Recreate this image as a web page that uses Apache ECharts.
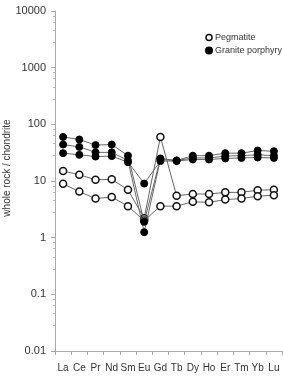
<!DOCTYPE html>
<html>
<head>
<meta charset="utf-8">
<script src="https://cdn.jsdelivr.net/npm/echarts@6/dist/echarts.min.js"></script>
<style>
  html, body { margin: 0; padding: 0; background: #fff; }
  #chart { width: 283px; height: 379px; }
</style>
</head>
<body>
<div id="chart"></div>
<script>
// REE elements on the x axis
const elements = ['La', 'Ce', 'Pr', 'Nd', 'Sm', 'Eu', 'Gd', 'Tb', 'Dy', 'Ho', 'Er', 'Tm', 'Yb', 'Lu'];

// Pegmatite samples (open circles)
const pegmatite1 = [15, 12.9, 10.5, 10.7, 7.0, 2.2, 60, 5.5, 5.9, 5.9, 6.3, 6.3, 6.9, 7.0];
const pegmatite2 = [8.9, 6.5, 4.9, 5.2, 3.6, 2.0, 3.6, 3.6, 4.3, 4.2, 4.7, 4.9, 5.4, 5.6];

// Granite porphyry samples (filled circles)
const granite1 = [60, 54, 43, 44, 28, 1.9, 25, 23, 28, 28, 31, 31, 34.5, 33.5];
const granite2 = [44, 40, 32, 32, 23, 1.25, 24, 23, 25.5, 25.5, 27.5, 28, 29, 28];
const granite3 = [31, 29, 27, 27.5, 21.5, 9, 22.5, 22.5, 24, 24, 25, 25.5, 26, 25.5];

const lineColor = '#666';

function openSeries(data) {
  return {
    name: 'Pegmatite',
    type: 'line',
    data: data,
    symbol: 'circle',
    symbolSize: 7,
    itemStyle: { color: '#fff', borderColor: '#111', borderWidth: 1.5 },
    lineStyle: { color: lineColor, width: 1 },
    z: 3
  };
}

function filledSeries(data) {
  return {
    name: 'Granite porphyry',
    type: 'line',
    data: data,
    symbol: 'circle',
    symbolSize: 7,
    itemStyle: { color: '#000', borderColor: '#000', borderWidth: 1 },
    lineStyle: { color: lineColor, width: 1 },
    z: 4
  };
}

const chart = echarts.init(document.getElementById('chart'));

const option = {
  animation: false,
  textStyle: { fontFamily: 'Liberation Sans, Arial, sans-serif' },
  legend: {
    orient: 'vertical',
    left: 200,
    top: 28,
    itemWidth: 6,
    itemHeight: 6,
    itemGap: 4,
    textStyle: { fontSize: 9, color: '#333', padding: [0, 0, 0, -2] },
    data: [
      { name: 'Pegmatite', icon: 'circle', itemStyle: { color: '#fff', borderColor: '#111', borderWidth: 1.5 } },
      { name: 'Granite porphyry', icon: 'circle', itemStyle: { color: '#000' } }
    ]
  },
  grid: { left: 55, right: 1, top: 11, bottom: 28, containLabel: false, outerBoundsMode: 'none' },
  xAxis: {
    type: 'category',
    data: elements,
    boundaryGap: true,
    axisLine: { lineStyle: { color: '#aaa' } },
    axisTick: { show: true, length: 4, lineStyle: { color: '#aaa' } },
    axisLabel: { color: '#333', fontSize: 10, margin: 12, interval: 0 }
  },
  yAxis: {
    type: 'log',
    logBase: 10,
    min: 0.01,
    max: 10000,
    name: 'whole rock / chondrite',
    nameLocation: 'middle',
    nameMoveOverlap: false,
    nameGap: 43,
    nameTextStyle: { color: '#333', fontSize: 10, padding: [0, 0, 0, 26] },
    axisLine: { show: true, lineStyle: { color: '#aaa' } },
    axisTick: { show: true, length: 4, lineStyle: { color: '#aaa' } },
    minorTick: { show: true, splitNumber: 5, length: 2, lineStyle: { color: '#bbb' } },
    splitLine: { show: false },
    axisLabel: { color: '#333', fontSize: 11, margin: 9, formatter: v => String(v) }
  },
  series: [
    openSeries(pegmatite1),
    openSeries(pegmatite2),
    filledSeries(granite1),
    filledSeries(granite2),
    filledSeries(granite3)
  ]
};

chart.setOption(option);
</script>
</body>
</html>
